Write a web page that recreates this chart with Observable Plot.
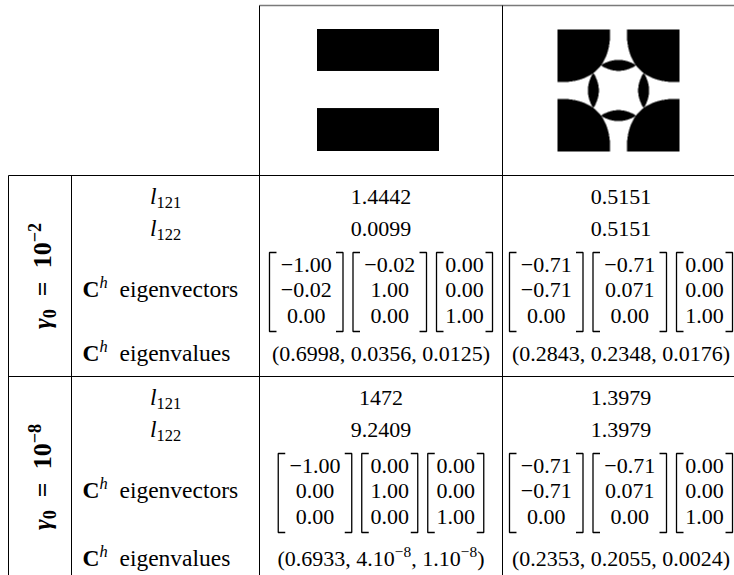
<!DOCTYPE html>
<html><head><meta charset="utf-8">
<script src="https://cdn.jsdelivr.net/npm/d3@7"></script>
<script src="https://cdn.jsdelivr.net/npm/@observablehq/plot@0.6"></script>
<style>
html,body{margin:0;padding:0;background:#fff;}
#chart svg{display:block;}
#chart text{white-space:pre;}
</style>
</head><body><div id="chart"></div>
<script>
// ---------------- data ----------------
const shapes = ["bars", "cross"];                 // header images (columns)
const gammaExponents = ["−2", "−8"];              // γ0 = 10^exp (row groups)
const rowLabels = ["\\i{l}_{121}", "\\i{l}_{122}", "\\b{C}^i{h}  eigenvectors", "\\b{C}^i{h}  eigenvalues"];
const l121 = [["1.4442", "0.5151"], ["1472", "1.3979"]];      // [gamma][shape]
const l122 = [["0.0099", "0.5151"], ["9.2409", "1.3979"]];
const eigvecBars = [
  [["−1.00", "−0.02", "0.00"], ["−0.02", "1.00", "0.00"], ["0.00", "0.00", "1.00"]],
  [["−1.00", "0.00", "0.00"], ["0.00", "1.00", "0.00"], ["0.00", "0.00", "1.00"]]
];
const eigvecCross = [
  [["−0.71", "−0.71", "0.00"], ["−0.71", "0.071", "0.00"], ["0.00", "0.00", "1.00"]],
  [["−0.71", "−0.71", "0.00"], ["−0.71", "0.071", "0.00"], ["0.00", "0.00", "1.00"]]
];
const eigvalBars = ["(0.6998, 0.0356, 0.0125)", "(0.6933, 4.10^{−8}, 1.10^{−8})"];
const eigvalCross = ["(0.2843, 0.2348, 0.0176)", "(0.2353, 0.2055, 0.0024)"];
// image content (fractions of the image square)
const barBands = [[0, 0.344], [0.648, 1]];
const crossCornerRadius = 0.432, crossCornerPower = 2.5;
const crossLensOffset = 0.206, crossLensHalfLength = 0.145, crossLensHalfThickness = 0.045;

// ---------------- layout ----------------
const W = 734, H = 575;
const colX = [8, 71, 259, 502, 739];
const rowY = [5, 175, 376, 577];
const imgSize = 122, imgShift = -2.5;
const fsNum = 22, fsLabel = 23.5, fsGamma = 26, emLayout = 22.5;
const off = {l1: 28, l2: 60, vecTop: 77, vecBot: 156, rows: [96, 121.5, 147], vecMid: 121.5, eig: 185, supExtra: 4};
const vecPad = 8, vecGap = 10, tick = 7;

function cmEm(s) { let w = 0; for (const ch of s) w += ch === "−" ? 0.778 : ch === "." ? 0.278 : 0.5; return w; }

const centerTexts = [], labelCenter = [], labelLeft = [], rotated = [], entries = [], brackets = [], rules = [];
const eigvecs = [eigvecBars, eigvecCross], eigvals = [eigvalBars, eigvalCross];
const labelCx = (colX[1] + colX[2]) / 2;

gammaExponents.forEach((exp, s) => {
  const T = rowY[1 + s], B = rowY[2 + s];
  const hasSup = eigvals.some(a => a[s].includes("^{"));
  const eigY = T + off.eig + (hasSup ? off.supExtra : 0);
  labelCenter.push({x: labelCx, y: T + off.l1, text: rowLabels[0]});
  labelCenter.push({x: labelCx, y: T + off.l2, text: rowLabels[1]});
  labelLeft.push({x: colX[1] + 11, y: T + off.vecMid, text: rowLabels[2]});
  labelLeft.push({x: colX[1] + 11, y: eigY, text: rowLabels[3]});
  rotated.push({x: colX[0] + 42, y: (T + B) / 2, text: `\\i{γ}_{0}\u2002=\u200210^{${exp}}`});
  shapes.forEach((shape, c) => {
    const cx = (colX[2 + c] + colX[3 + c]) / 2;
    centerTexts.push({x: cx, y: T + off.l1, text: l121[s][c]});
    centerTexts.push({x: cx, y: T + off.l2, text: l122[s][c]});
    centerTexts.push({x: cx, y: eigY, text: eigvals[c][s]});
    const vectors = eigvecs[c][s];
    const widths = vectors.map(v => Math.max(...v.map(cmEm)) * emLayout + 2 * vecPad);
    const total = d3.sum(widths) + vecGap * (vectors.length - 1);
    let x = cx - total / 2;
    vectors.forEach((v, k) => {
      const xl = x, xr = x + widths[k], yt = T + off.vecTop, yb = T + off.vecBot;
      v.forEach((val, r) => entries.push({x: (xl + xr) / 2, y: T + off.rows[r], text: val}));
      const id = `${s}-${c}-${k}`;
      [[xl + tick, yt], [xl, yt], [xl, yb], [xl + tick, yb]].forEach(([px, py]) => brackets.push({x: px, y: py, id: id + "L"}));
      [[xr - tick, yt], [xr, yt], [xr, yb], [xr - tick, yb]].forEach(([px, py]) => brackets.push({x: px, y: py, id: id + "R"}));
      x = xr + vecGap;
    });
  });
});

// table rules
const topRule = [{x1: colX[2], x2: colX[4], y1: rowY[0], y2: rowY[0]}];
rules.push({x1: colX[0], x2: colX[4], y1: rowY[1], y2: rowY[1]});
rules.push({x1: colX[0], x2: colX[4], y1: rowY[2], y2: rowY[2]});
rules.push({x1: colX[0], x2: colX[0], y1: rowY[1], y2: rowY[3]});
rules.push({x1: colX[1], x2: colX[1], y1: rowY[1], y2: rowY[3]});
rules.push({x1: colX[2], x2: colX[2], y1: rowY[0], y2: rowY[3]});
rules.push({x1: colX[3], x2: colX[3], y1: rowY[0], y2: rowY[3]});

// images
const imgY0 = (rowY[0] + rowY[1]) / 2 - imgSize / 2;
const img1X0 = (colX[2] + colX[3]) / 2 + imgShift - imgSize / 2;
const img2X0 = (colX[3] + colX[4]) / 2 + imgShift - imgSize / 2;

function crossValue(u, v) {
  const p = u - 0.5, q = v - 0.5;
  const dx = 0.5 - Math.abs(p), dy = 0.5 - Math.abs(q);
  const n = crossCornerPower;
  if (Math.pow(Math.pow(dx, n) + Math.pow(dy, n), 1 / n) < crossCornerRadius) return 1;
  const a1 = Math.abs(p), b1 = Math.abs(Math.abs(q) - crossLensOffset);
  if (a1 < crossLensHalfLength && b1 < crossLensHalfThickness * (1 - (a1 / crossLensHalfLength) ** 2)) return 1;
  const a2 = Math.abs(q), b2 = Math.abs(Math.abs(p) - crossLensOffset);
  if (a2 < crossLensHalfLength && b2 < crossLensHalfThickness * (1 - (a2 / crossLensHalfLength) ** 2)) return 1;
  return 0;
}

const svg = Plot.plot({
  width: W, height: H, margin: 0,
  style: {fontFamily: "'Liberation Serif', 'DejaVu Serif', serif", background: "white", overflow: "hidden"},
  x: {domain: [0, W], range: [0, W], axis: null},
  y: {domain: [0, H], range: [0, H], axis: null},
  color: {type: "linear", domain: [0, 1], range: ["white", "black"]},
  marks: [
    Plot.rect(barBands, {x1: () => img1X0, x2: () => img1X0 + imgSize, y1: d => imgY0 + d[0] * imgSize, y2: d => imgY0 + d[1] * imgSize, fill: "black"}),
    Plot.raster({x1: img2X0, x2: img2X0 + imgSize, y1: imgY0, y2: imgY0 + imgSize, width: 244, height: 244,
      fill: (x, y) => crossValue((x - img2X0) / imgSize, (y - imgY0) / imgSize)}),
    Plot.link(topRule, {x1: "x1", y1: "y1", x2: "x2", y2: "y2", stroke: "#7a7a7a", strokeWidth: 1.6}),
    Plot.link(rules, {x1: "x1", y1: "y1", x2: "x2", y2: "y2", stroke: "black", strokeWidth: 1}),
    Plot.line(brackets, {x: "x", y: "y", z: "id", stroke: "black", strokeWidth: 1.3, strokeLinejoin: "miter", strokeLinecap: "butt"}),
    Plot.text(entries, {x: "x", y: "y", text: "text", textAnchor: "middle", lineAnchor: "bottom", fontSize: fsNum}),
    Plot.text(centerTexts, {x: "x", y: "y", text: "text", textAnchor: "middle", lineAnchor: "bottom", fontSize: fsNum}),
    Plot.text(labelCenter, {x: "x", y: "y", text: "text", textAnchor: "middle", lineAnchor: "bottom", fontSize: fsLabel}),
    Plot.text(labelLeft, {x: "x", y: "y", text: "text", textAnchor: "start", lineAnchor: "bottom", fontSize: fsLabel}),
    Plot.text(rotated, {x: "x", y: "y", text: "text", textAnchor: "middle", lineAnchor: "bottom", rotate: -90, fontSize: fsGamma, fontWeight: "bold"})
  ]
});
document.getElementById("chart").append(svg);

// render the small math markup as tspans
const tokenRe = /(\^i\{[^}]*\}|\^\{[^}]*\}|_\{[^}]*\}|\\i\{[^}]*\}|\\b\{[^}]*\})/;
function renderMarkup(el, src) {
  const fs = parseFloat(getComputedStyle(el).fontSize) || 20;
  el.textContent = "";
  let shift = 0;
  src.split(tokenRe).filter(t => t !== "").forEach(tok => {
    let kind = "n", content = tok, italic = false, bold = false, m;
    if ((m = tok.match(/^\^i\{(.*)\}$/))) { kind = "sup"; content = m[1]; italic = true; }
    else if ((m = tok.match(/^\^\{(.*)\}$/))) { kind = "sup"; content = m[1]; }
    else if ((m = tok.match(/^_\{(.*)\}$/))) { kind = "sub"; content = m[1]; }
    else if ((m = tok.match(/^\\i\{(.*)\}$/))) { italic = true; content = m[1]; }
    else if ((m = tok.match(/^\\b\{(.*)\}$/))) { bold = true; content = m[1]; }
    const ts = document.createElementNS("http://www.w3.org/2000/svg", "tspan");
    const target = kind === "sup" ? -0.38 * fs : kind === "sub" ? 0.2 * fs : 0;
    if (target !== shift) ts.setAttribute("dy", target - shift);
    shift = target;
    if (kind !== "n") ts.setAttribute("font-size", 0.7 * fs);
    if (italic) ts.setAttribute("font-style", "italic");
    if (bold) ts.setAttribute("font-weight", "bold");
    ts.textContent = content;
    el.appendChild(ts);
  });
}
svg.querySelectorAll("text").forEach(el => {
  const src = el.textContent;
  if (tokenRe.test(src)) renderMarkup(el, src);
});
</script>
</body></html>
